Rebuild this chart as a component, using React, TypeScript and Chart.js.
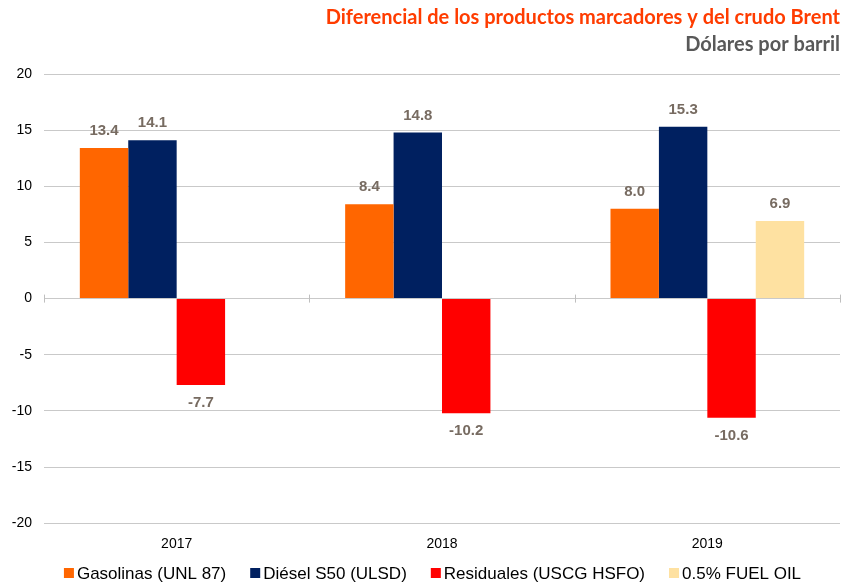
import React, { useEffect, useRef } from "react";
import { Chart, registerables } from "chart.js";

Chart.register(...registerables);

const categories = ["2017", "2018", "2019"];
const gasolinas: (number | null)[] = [13.4, 8.4, 8.0];
const diesel: (number | null)[] = [14.1, 14.8, 15.3];
const residuales: (number | null)[] = [-7.7, -10.2, -10.6];
const fuelOil: (number | null)[] = [null, null, 6.9];
const seriesNames = [
  "Gasolinas (UNL 87)",
  "Diésel S50 (ULSD)",
  "Residuales (USCG HSFO)",
  "0.5% FUEL OIL",
];
const seriesColors = ["#ff6600", "#002060", "#ff0000", "#fee1a1"];
const titleText = "Diferencial de los productos marcadores y del crudo Brent";
const subtitleText = "Dólares por barril";
const yMin = -20;
const yMax = 20;
const yStep = 5;

const ARIAL = '"Liberation Sans", Arial, sans-serif';

const dataLabelPlugin = {
  id: "dataLabels",
  afterDatasetsDraw(chart: any) {
    const ctx = chart.ctx;
    ctx.save();
    ctx.font = `bold 15px ${ARIAL}`;
    ctx.fillStyle = "#776b61";
    ctx.textAlign = "center";
    ctx.textBaseline = "middle";
    chart.data.datasets.forEach((ds: any, di: number) => {
      const meta = chart.getDatasetMeta(di);
      meta.data.forEach((el: any, i: number) => {
        const v = ds.data[i];
        if (v === null || v === undefined) return;
        const y = v >= 0 ? el.y - 17 : el.y + 18;
        ctx.fillText(v.toFixed(1), el.x, y);
      });
    });
    ctx.restore();
  },
};

const zeroTicksPlugin = {
  id: "zeroTicks",
  afterDatasetsDraw(chart: any) {
    const x = chart.scales.x;
    const y = chart.scales.y;
    const ctx = chart.ctx;
    const y0 = y.getPixelForValue(0);
    const n = categories.length;
    const w = (x.right - x.left) / n;
    ctx.save();
    ctx.strokeStyle = "#bfbfbf";
    ctx.lineWidth = 1;
    for (let i = 0; i <= n; i++) {
      const px = Math.round(x.left + i * w) + 0.5;
      ctx.beginPath();
      ctx.moveTo(px, y0 - 4);
      ctx.lineTo(px, y0 + 4);
      ctx.stroke();
    }
    ctx.restore();
  },
};

const legendPlugin = {
  id: "customLegend",
  afterDraw(chart: any) {
    const ctx = chart.ctx;
    ctx.save();
    ctx.font = `17px ${ARIAL}`;
    ctx.textBaseline = "middle";
    const box = 10;
    const gap = 3;
    const spacing = 24;
    const widths = seriesNames.map((t) => box + gap + ctx.measureText(t).width);
    const total = widths.reduce((a, b) => a + b, 0) + spacing * (widths.length - 1);
    let x = chart.width / 2 + 10 - total / 2;
    const cy = chart.height - 15;
    seriesNames.forEach((t, i) => {
      ctx.fillStyle = seriesColors[i];
      ctx.fillRect(x, cy - box / 2, box, box);
      ctx.fillStyle = "#000000";
      ctx.textAlign = "left";
      ctx.fillText(t, x + box + gap, cy + 1);
      x += widths[i] + spacing;
    });
    ctx.restore();
  },
};

export default function App() {
  const ref = useRef<HTMLCanvasElement | null>(null);

  useEffect(() => {
    document.body.style.margin = "0";
    if (!ref.current) return;
    const allSeries = [gasolinas, diesel, residuales, fuelOil];
    const chart = new Chart(ref.current, {
      type: "bar",
      data: {
        labels: categories,
        datasets: allSeries.map((d, i) => ({
          label: seriesNames[i],
          data: d,
          backgroundColor: seriesColors[i],
          borderWidth: 0,
          barPercentage: 1,
          categoryPercentage: 0.73,
        })),
      },
      options: {
        animation: false,
        responsive: false,
        maintainAspectRatio: false,
        layout: { padding: { left: 0, right: 5, top: 0, bottom: 30 } },
        plugins: {
          legend: { display: false },
          tooltip: { enabled: false },
          title: {
            display: true,
            text: titleText,
            align: "end",
            color: "#ff3c00",
            font: { family: "Lato, sans-serif", size: 20, weight: "bold" },
            padding: { top: 6, bottom: 3 },
          },
          subtitle: {
            display: true,
            text: subtitleText,
            align: "end",
            color: "#595959",
            font: { family: "Lato, sans-serif", size: 20, weight: "bold" },
            padding: { top: 0, bottom: 17 },
          },
        },
        scales: {
          x: {
            grid: { display: false },
            border: { display: false },
            ticks: {
              color: "#000000",
              font: { family: ARIAL, size: 14 },
              padding: 5,
            },
          },
          y: {
            min: yMin,
            max: yMax,
            afterFit: (scale: any) => {
              scale.width = 44;
            },
            grid: { color: "#c9c9c9", lineWidth: 1, drawTicks: false },
            border: { display: false },
            ticks: {
              stepSize: yStep,
              color: "#000000",
              font: { family: ARIAL, size: 14 },
              padding: 12,
            },
          },
        },
      },
      plugins: [dataLabelPlugin, zeroTicksPlugin, legendPlugin],
    });
    return () => chart.destroy();
  }, []);

  return (
    <div style={{ width: 845, height: 588 }}>
      <canvas ref={ref} width={845} height={588} style={{ display: "block" }} />
    </div>
  );
}
